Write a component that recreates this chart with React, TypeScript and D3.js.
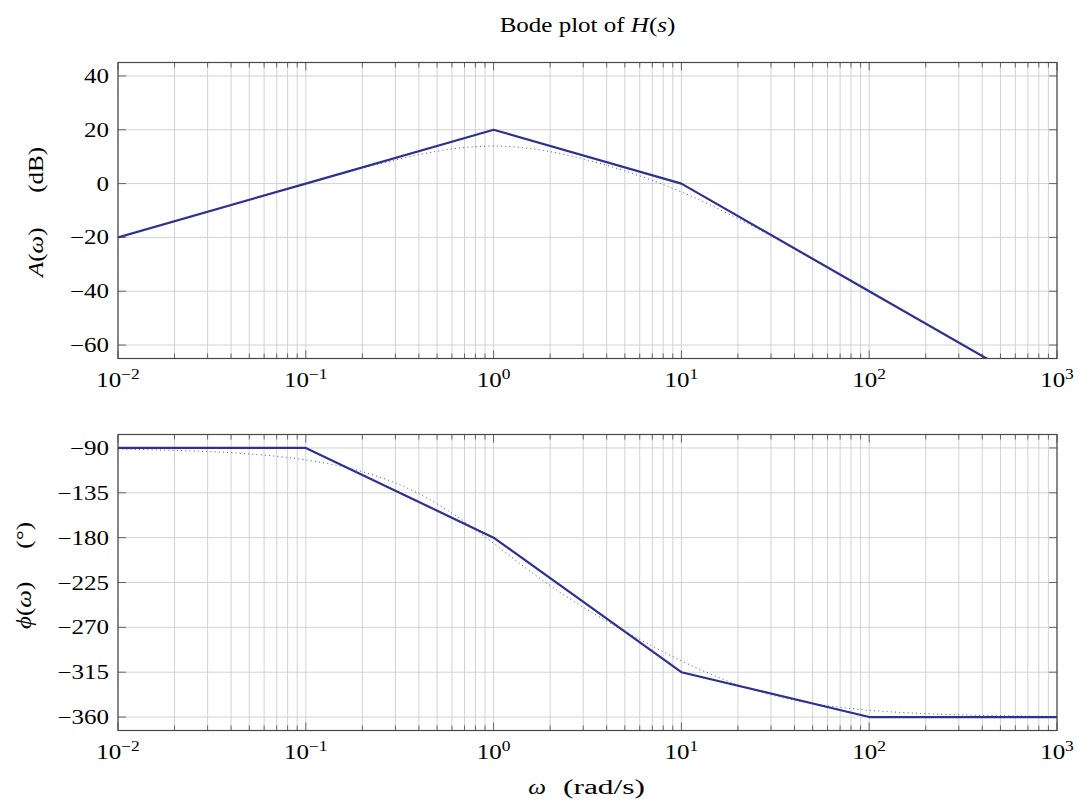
import React, { useEffect, useRef } from 'react';
import * as d3 from 'd3';

// asymptotic (straight-line) approximation
const asymOmega = [0.01, 0.1, 1, 10, 100, 1000];
const asymGain = [-20, 0, 20, 0, -40, -80];
const asymPhase = [-90, -90, -180, -315, -360, -360];

// exact response
const exactOmega = [0.01, 0.02, 0.05, 0.1, 0.2, 0.3, 0.5, 0.7, 1, 1.5, 2, 3, 5, 7, 10, 20, 30, 50, 100, 200, 300, 500, 1000];
const exactGain = [-20, -13.98, -6.04, -0.09, 5.68, 8.79, 12.03, 13.42, 13.94, 13.18, 11.87, 9.17, 4.71, 1.19, -3.1, -13.03, -19.55, -28.13, -40.04, -52.05, -59.09, -67.96, -80];
const exactPhase = [-91.2, -92.41, -96.01, -101.99, -113.77, -125.12, -145.99, -163.98, -185.71, -211.15, -228.18, -249.83, -273.95, -288.73, -303.58, -327.71, -337.75, -346.4, -353.14, -356.57, -357.71, -358.62, -359.31];

const gainTicks = [-60, -40, -20, 0, 20, 40];
const phaseTicks = [-360, -315, -270, -225, -180, -135, -90];
const decadeTicks = [-2, -1, 0, 1, 2, 3];

const W = 1078;
const H = 803;
const left = 118;
const right = 1057;
const FONT = '"Liberation Serif", "DejaVu Serif", serif';
const FS = '20px';
const SX = 1.25; // the reference font runs wider than Liberation Serif
const LINE = '#2e3192';
const GRID = '#d2d2d2';
const AXIS = '#474747';

type Panel = {
  id: string;
  top: number;
  bottom: number;
  domain: [number, number];
  ticks: number[];
  asym: number[];
  exact: number[];
  sym: string;
  unit: string;
  labelX: number; // baseline of the rotated label
  labelSpan: [number, number]; // image y extent of the rotated label
};

const panels: Panel[] = [
  { id: 'gain', top: 62.5, bottom: 358.5, domain: [-65, 45], ticks: gainTicks, asym: asymGain, exact: exactGain, sym: 'A', unit: '(dB)', labelX: 43, labelSpan: [277, 147] },
  { id: 'phase', top: 434.5, bottom: 730.5, domain: [-373.5, -76.5], ticks: phaseTicks, asym: asymPhase, exact: exactPhase, sym: '\u03d5', unit: '(\u00b0)', labelX: 31, labelSpan: [629, 522] },
];

const minus = (d: number) => (d < 0 ? '\u2212' + Math.abs(d) : String(d));

export default function App() {
  const ref = useRef<SVGSVGElement>(null);

  useEffect(() => {
    const svg = d3.select(ref.current);
    svg.selectAll('*').remove();

    const txt = (parent: any, x: number, y: number, anchor: string, rot = 0) =>
      parent.append('text')
        .attr('transform', `translate(${x},${y}) rotate(${rot}) scale(${SX},1)`)
        .attr('text-anchor', anchor)
        .style('font-family', FONT).style('font-size', FS);

    const x = d3.scaleLog().domain([1e-2, 1e3]).range([left, right]);
    const minor: number[] = [];
    for (let e = -2; e < 3; e++) for (let k = 2; k <= 9; k++) minor.push(k * Math.pow(10, e));

    // title
    const title = txt(svg, (left + right) / 2, 32, 'middle');
    title.append('tspan').text('Bode plot of ');
    title.append('tspan').attr('font-style', 'italic').text('H');
    title.append('tspan').text('(');
    title.append('tspan').attr('font-style', 'italic').text('s');
    title.append('tspan').text(')');

    panels.forEach(p => {
      const y = d3.scaleLinear().domain(p.domain).range([p.bottom, p.top]);
      const g = svg.append('g');

      g.append('clipPath').attr('id', `clip-${p.id}`)
        .append('rect')
        .attr('x', left).attr('y', p.top)
        .attr('width', right - left).attr('height', p.bottom - p.top);

      // grid
      g.selectAll('.vminor').data(minor).enter().append('line')
        .attr('x1', d => x(d)).attr('x2', d => x(d))
        .attr('y1', p.top).attr('y2', p.bottom)
        .attr('stroke', GRID).attr('stroke-width', 1);
      g.selectAll('.vmajor').data(decadeTicks).enter().append('line')
        .attr('x1', d => x(Math.pow(10, d))).attr('x2', d => x(Math.pow(10, d)))
        .attr('y1', p.top).attr('y2', p.bottom)
        .attr('stroke', GRID).attr('stroke-width', 1);
      g.selectAll('.hgrid').data(p.ticks).enter().append('line')
        .attr('x1', left).attr('x2', right)
        .attr('y1', d => y(d)).attr('y2', d => y(d))
        .attr('stroke', GRID).attr('stroke-width', 1);

      // tick marks, inside on all four sides
      const tk = g.append('g').attr('stroke', AXIS).attr('stroke-width', 0.8);
      minor.forEach(v => {
        tk.append('line').attr('x1', x(v)).attr('x2', x(v)).attr('y1', p.bottom).attr('y2', p.bottom - 5);
        tk.append('line').attr('x1', x(v)).attr('x2', x(v)).attr('y1', p.top).attr('y2', p.top + 5);
      });
      decadeTicks.forEach(d => {
        const xv = x(Math.pow(10, d));
        tk.append('line').attr('x1', xv).attr('x2', xv).attr('y1', p.bottom).attr('y2', p.bottom - 8);
        tk.append('line').attr('x1', xv).attr('x2', xv).attr('y1', p.top).attr('y2', p.top + 8);
      });
      p.ticks.forEach(v => {
        tk.append('line').attr('x1', left).attr('x2', left + 8).attr('y1', y(v)).attr('y2', y(v));
        tk.append('line').attr('x1', right).attr('x2', right - 8).attr('y1', y(v)).attr('y2', y(v));
      });

      // curves
      const asymLine = d3.line<number>().x((_, i) => x(asymOmega[i])).y(d => y(d));
      const exactLine = d3.line<number>().x((_, i) => x(exactOmega[i])).y(d => y(d)).curve(d3.curveMonotoneX);
      const plot = g.append('g').attr('clip-path', `url(#clip-${p.id})`);
      plot.append('path').attr('d', exactLine(p.exact))
        .attr('fill', 'none').attr('stroke', '#4a4fb8')
        .attr('stroke-width', 1).attr('stroke-dasharray', '1 3.2');
      plot.append('path').attr('d', asymLine(p.asym))
        .attr('fill', 'none').attr('stroke', LINE)
        .attr('stroke-width', 2.2).attr('stroke-linejoin', 'round');

      // frame
      g.append('rect')
        .attr('x', left).attr('y', p.top)
        .attr('width', right - left).attr('height', p.bottom - p.top)
        .attr('fill', 'none').attr('stroke', AXIS).attr('stroke-width', 1.2);

      // y tick labels
      p.ticks.forEach(v => {
        txt(g, left - 9, y(v) + 7, 'end').text(minus(v));
      });

      // x tick labels
      decadeTicks.forEach(d => {
        const t = txt(g, x(Math.pow(10, d)), p.bottom + 28, 'middle');
        t.append('tspan').text('10');
        t.append('tspan').attr('dy', -8).style('font-size', '14px').text(minus(d));
      });

      // y axis label: symbol part and unit part
      const yl = txt(g, p.labelX, p.labelSpan[0], 'start', -90);
      yl.append('tspan').attr('font-style', 'italic').text(p.sym);
      yl.append('tspan').text('(');
      yl.append('tspan').attr('font-style', 'italic').text('\u03c9');
      yl.append('tspan').text(')');
      txt(g, p.labelX, p.labelSpan[1], 'end', -90).text(p.unit);
    });

    // x axis label
    txt(svg, 537, 794, 'middle').attr('font-style', 'italic').text('\u03c9');
    txt(svg, 563, 794, 'start')
      .attr('textLength', 82 / SX).attr('lengthAdjust', 'spacingAndGlyphs')
      .text('(rad/s)');
  }, []);

  return (
    <svg
      ref={ref}
      width={W}
      height={H}
      style={{ position: 'absolute', left: 0, top: 0, background: '#fff' }}
    />
  );
}
